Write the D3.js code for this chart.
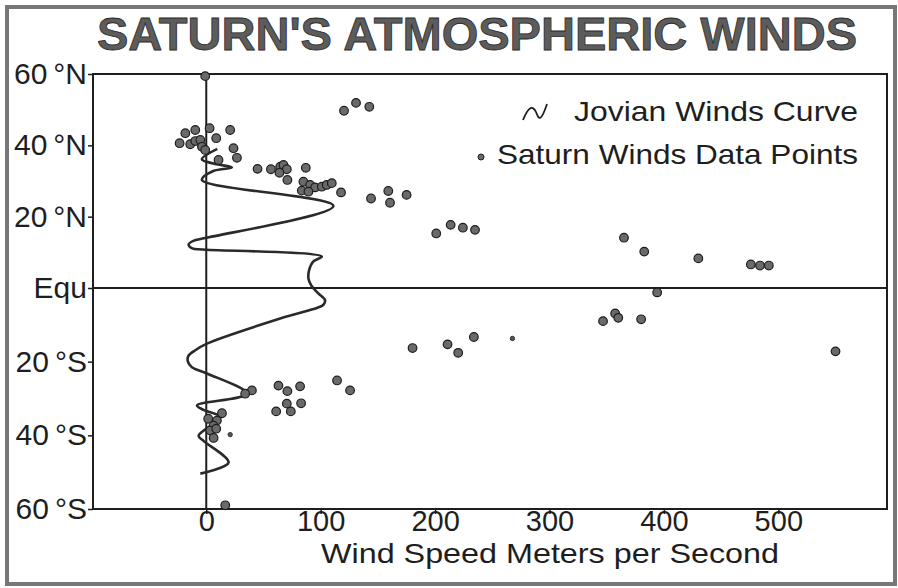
<!DOCTYPE html>
<html>
<head>
<meta charset="utf-8">
<script src="https://cdn.jsdelivr.net/npm/d3@7"></script>
<style>
  body { margin: 0; background: #fff; }
  svg { display: block; font-family: "Liberation Sans", Arial, sans-serif; }
</style>
</head>
<body>
<svg id="chart"></svg>
<script>
// tick labels
const latTicks = [60, 40, 20, 0, -20, -40, -60];
const latLabels = ["60\u2009°N", "40\u2009°N", "20\u2009°N", "Equ", "20\u2009°S", "40\u2009°S", "60\u2009°S"];
const speedTicks = [0, 100, 200, 300, 400, 500];

// Jovian winds curve: [speed m/s, latitude]
const jovianCurve = [
  [9.6, 39.0], [-3.8, 36.1], [6.1, 34.9], [22.4, 33.8], [6.1, 32.8], [-3.8, 30.3],
  [111.1, 23.0], [-0.9, 14.0], [-11.3, 13.2], [-15.4, 12.2], [-12.2, 11.1], [-3.5, 10.8],
  [101.0, 8.8], [93.4, 7.4], [89.9, 5.0], [89.3, 2.7], [91.6, 0.8], [97.7, -1.4],
  [103.8, -3.3], [102.5, -4.5], [97.7, -5.3], [64.6, -8.3], [0.6, -15.1], [-9.6, -16.9],
  [-15.7, -18.5], [-16.1, -19.9], [-12.5, -21.5], [0.6, -23.2], [35.5, -28.7],
  [-8.1, -31.9], [-2.4, -33.1], [12.2, -35.1], [-6.7, -40.1], [-2.4, -41.5],
  [19.5, -47.4], [-5.2, -50.4]
];

// Saturn winds data points: [speed m/s, latitude]
const saturnPoints = [
  [120.4, 49.7], [130.9, 51.9], [142.5, 50.8],
  [-18.3, 43.4], [-9.6, 44.3], [2.9, 44.8], [20.9, 44.3], [8.7, 42.0],
  [-23.3, 40.6], [-14.0, 40.3], [-9.6, 41.2], [-5.2, 41.5], [-3.8, 39.6], [-0.9, 38.7],
  [23.8, 39.2], [26.8, 36.5], [10.7, 35.9],
  [44.8, 33.4], [56.5, 33.3], [64.6, 34.0], [67.5, 34.5], [70.4, 33.3], [64.0, 32.3],
  [70.9, 30.3], [87.0, 33.7], [84.9, 29.8], [83.5, 27.3], [90.8, 28.9], [95.1, 28.2],
  [101.0, 28.4], [105.3, 28.9], [109.7, 29.4], [89.3, 27.0], [117.8, 26.8],
  [144.0, 25.1], [159.1, 27.2], [160.6, 23.9], [175.1, 26.1],
  [201.0, 15.3], [213.6, 17.7], [224.3, 16.9], [234.9, 16.3],
  [365.1, 14.1], [382.8, 10.2], [430.1, 8.3], [476.0, 6.6], [484.0, 6.3], [491.7, 6.3],
  [394.1, -1.2], [346.8, -9.0], [357.4, -6.9], [360.1, -8.1], [380.1, -8.5],
  [550.0, -17.2], [180.3, -16.3], [210.9, -15.3], [220.2, -17.6], [233.9, -13.3],
  [114.3, -25.1], [125.7, -27.8],
  [63.1, -26.5], [70.9, -28.0], [82.0, -26.7], [70.4, -31.4], [73.9, -33.5],
  [82.9, -31.3], [61.1, -33.5],
  [39.9, -27.8], [34.0, -28.7], [13.7, -34.0], [9.3, -36.0], [6.4, -37.4],
  [3.5, -38.7], [6.4, -40.7], [1.7, -35.5], [8.7, -38.2],
  [16.6, -59.0], [-0.9, 59.4]
];
// the two faint, smaller points
const saturnSmall = [[267.6, -13.7], [20.9, -39.8]];

const width = 898,
      height = 588,
      svg = d3.select("#chart")
              .attr("width", width)
              .attr("height", height);

const x = d3.scaleLinear().domain([-99, 595]).range([93, 887]),
      y = d3.scaleLinear().domain([-60, 0, 60]).range([509, 288, 74]);

const ink = "#1e1e1e";

// page border
svg.append("rect")
    .attr("x", 7).attr("y", 7)
    .attr("width", 888).attr("height", 577)
    .attr("fill", "none")
    .attr("stroke", "#777")
    .attr("stroke-width", 4);

// title
svg.append("text")
    .attr("x", 477)
    .attr("y", 50)
    .attr("text-anchor", "middle")
    .attr("font-size", 46)
    .attr("font-weight", "bold")
    .attr("textLength", 760)
    .attr("lengthAdjust", "spacingAndGlyphs")
    .attr("fill", "#5c5c5c")
    .attr("stroke", "#2a2a2a")
    .attr("stroke-width", 0.8)
    .text("SATURN'S ATMOSPHERIC WINDS");

// plot frame
svg.append("rect")
    .attr("x", x.range()[0])
    .attr("y", y(60))
    .attr("width", x.range()[1] - x.range()[0])
    .attr("height", y(-60) - y(60))
    .attr("fill", "none")
    .attr("stroke", ink)
    .attr("stroke-width", 2);

// zero speed line and equator
svg.append("line")
    .attr("x1", x(0)).attr("x2", x(0))
    .attr("y1", y(60)).attr("y2", y(-60))
    .attr("stroke", ink).attr("stroke-width", 2);
svg.append("line")
    .attr("x1", x.range()[0]).attr("x2", x.range()[1])
    .attr("y1", y(0)).attr("y2", y(0))
    .attr("stroke", ink).attr("stroke-width", 2);

// axes
const yAxis = svg.append("g")
    .attr("transform", `translate(${x.range()[0]},0)`)
    .call(d3.axisLeft(y)
        .tickValues(latTicks)
        .tickFormat((d, i) => latLabels[i])
        .tickSize(5)
        .tickPadding(1));
const xAxis = svg.append("g")
    .attr("transform", `translate(0,${y(-60)})`)
    .call(d3.axisBottom(x)
        .tickValues(speedTicks)
        .tickSize(5)
        .tickPadding(0));

[yAxis, xAxis].forEach((ax) => {
    ax.select(".domain").remove();
    ax.selectAll("line").attr("stroke", ink).attr("stroke-width", 1.5);
    ax.selectAll("text")
        .attr("font-family", "Liberation Sans, Arial, sans-serif")
        .attr("font-size", 30)
        .attr("fill", ink);
});
xAxis.selectAll("text")
    .attr("font-size", 29)
    .attr("dy", "0.6em");

svg.append("text")
    .attr("x", 550)
    .attr("y", 563)
    .attr("text-anchor", "middle")
    .attr("font-size", 28)
    .attr("textLength", 458)
    .attr("lengthAdjust", "spacingAndGlyphs")
    .attr("fill", ink)
    .text("Wind Speed Meters per Second");

// Jovian curve
const line = d3.line()
    .x((d) => x(d[0]))
    .y((d) => y(d[1]))
    .curve(d3.curveCatmullRom.alpha(0.5));

svg.append("path")
    .datum(jovianCurve)
    .attr("d", line)
    .attr("fill", "none")
    .attr("stroke", "#2a2a2a")
    .attr("stroke-width", 2.6)
    .attr("stroke-linejoin", "round");

// Saturn points
svg.append("g").selectAll("circle")
    .data(saturnPoints)
    .enter().append("circle")
        .attr("cx", (d) => x(d[0]))
        .attr("cy", (d) => y(d[1]))
        .attr("r", 4.3)
        .attr("fill", "#6a6a6a")
        .attr("stroke", ink)
        .attr("stroke-width", 1.2);

svg.append("g").selectAll("circle")
    .data(saturnSmall)
    .enter().append("circle")
        .attr("cx", (d) => x(d[0]))
        .attr("cy", (d) => y(d[1]))
        .attr("r", 2.2)
        .attr("fill", "#555")
        .attr("stroke", ink)
        .attr("stroke-width", 0.8);

// legend
const legend = svg.append("g");
legend.append("path")
    .attr("d", "M523,120 C527,110 532,103 536,112 C539,120 541,122 547,104")
    .attr("fill", "none")
    .attr("stroke", ink)
    .attr("stroke-width", 1.8);
legend.append("text")
    .attr("x", 574)
    .attr("y", 121)
    .attr("font-size", 28)
    .attr("fill", ink)
    .attr("textLength", 284)
    .attr("lengthAdjust", "spacingAndGlyphs")
    .text("Jovian Winds Curve");
legend.append("circle")
    .attr("cx", 481)
    .attr("cy", 157)
    .attr("r", 3)
    .attr("fill", "#6a6a6a")
    .attr("stroke", ink)
    .attr("stroke-width", 1);
legend.append("text")
    .attr("x", 497)
    .attr("y", 164)
    .attr("font-size", 28)
    .attr("fill", ink)
    .attr("textLength", 361)
    .attr("lengthAdjust", "spacingAndGlyphs")
    .text("Saturn Winds Data Points");
</script>
</body>
</html>
